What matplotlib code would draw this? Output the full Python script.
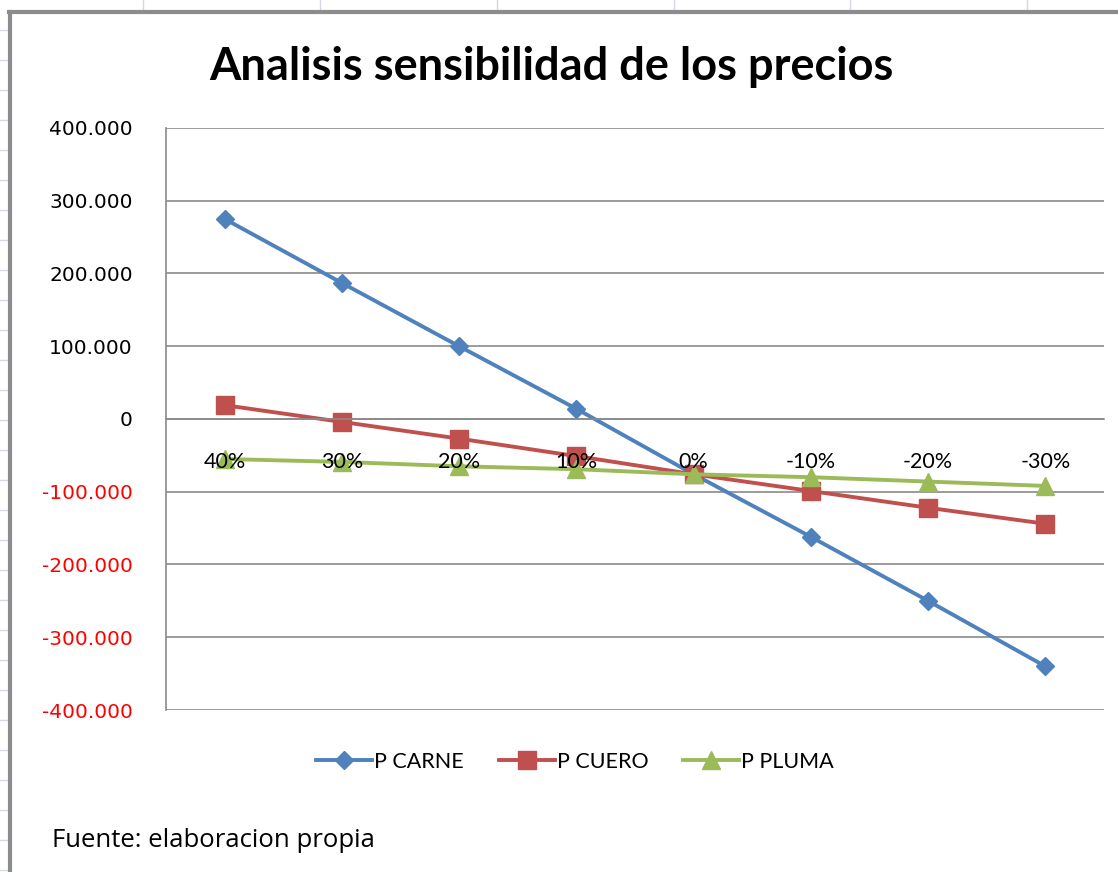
import matplotlib
matplotlib.use("Agg")
import matplotlib.pyplot as plt
from matplotlib.lines import Line2D
from matplotlib.ticker import FuncFormatter

# datos
categorias = ["40%", "30%", "20%", "10%", "0%", "-10%", "-20%", "-30%"]
p_carne = [275000, 187000, 100000, 14000, -76000, -162000, -250000, -340000]
p_cuero = [19000, -4000, -27000, -51000, -76000, -99000, -122000, -144000]
p_pluma = [-55000, -59000, -65000, -69000, -76000, -80000, -86000, -92000]
y_ticks = [400000, 300000, 200000, 100000, 0, -100000, -200000, -300000, -400000]

W, H = 1118, 872
fig = plt.figure(figsize=(W / 100, H / 100), dpi=100)
fig.patch.set_facecolor("white")

# fondo de hoja de calculo (lineas de celdas)
cell = "#d4d9e6"
for x in [143, 320, 497, 674, 850, 1027]:
    fig.add_artist(Line2D([x / W, x / W], [1, 1 - 11 / H], color=cell, lw=1))
for y in range(30, H, 30):
    fig.add_artist(Line2D([0, 7 / W], [1 - y / H, 1 - y / H], color=cell, lw=1))
# borde gris del objeto grafico
fig.add_artist(Line2D([10 / W, 10 / W], [0, 1 - 12 / H], color="#8c8c8c", lw=3))
fig.add_artist(Line2D([9 / W, 1], [1 - 12 / H, 1 - 12 / H], color="#8c8c8c", lw=3))

ax = fig.add_axes([166 / W, 1 - 710 / H, (1104 - 166) / W, (710 - 128) / H])
x = list(range(len(categorias)))

ax.plot(x, p_carne, color="#4F81BD", lw=2.8, marker="D", ms=9, label="P CARNE")
ax.plot(x, p_cuero, color="#C0504D", lw=2.8, marker="s", ms=13, label="P CUERO")
ax.plot(x, p_pluma, color="#9BBB59", lw=2.8, marker="^", ms=13, label="P PLUMA")

ax.set_xlim(-0.5, len(categorias) - 0.5)
ax.set_ylim(-400000, 400000)
ax.set_yticks(y_ticks)
ax.yaxis.set_major_formatter(FuncFormatter(lambda v, p: f"{int(v):,}".replace(",", ".")))
ax.grid(axis="y", color="#8a8a8a", lw=1.2)
ax.set_axisbelow(True)
ax.xaxis.set_zorder(5)  # etiquetas de categoria por encima de las lineas

for s in ["top", "right"]:
    ax.spines[s].set_visible(False)
ax.spines["left"].set_color("#8a8a8a")
ax.spines["left"].set_linewidth(1.2)
ax.spines["bottom"].set_position(("data", 0))
ax.spines["bottom"].set_color("#8a8a8a")
ax.spines["bottom"].set_linewidth(1.2)

ax.set_xticks(x)
ax.set_xticklabels(categorias, fontsize=15.5, family=["Lato", "DejaVu Sans"])
ax.tick_params(axis="x", length=0, pad=24)
ax.tick_params(axis="y", length=0, pad=24, labelsize=14.5)
for lbl, v in zip(ax.get_yticklabels(), y_ticks):
    lbl.set_color("red" if v < 0 else "black")

fig.text(551 / W, 1 - 67 / H, "Analisis sensibilidad de los precios", ha="center", va="center",
         fontsize=32.5, fontweight="bold", family=["Lato", "DejaVu Sans"])

fig.legend(loc="center", bbox_to_anchor=(575 / W, 1 - 762 / H), ncol=3, frameon=False,
           prop={"family": ["Lato", "DejaVu Sans"], "size": 15.5}, handlelength=2.6,
           handletextpad=0.1, columnspacing=1.6, markerscale=1.0)

fig.text(52 / W, 1 - 840 / H, "Fuente: elaboracion propia", ha="left", va="center",
         fontsize=18.5, family=["Open Sans", "DejaVu Sans"])

fig.savefig("out.png", dpi=100)
